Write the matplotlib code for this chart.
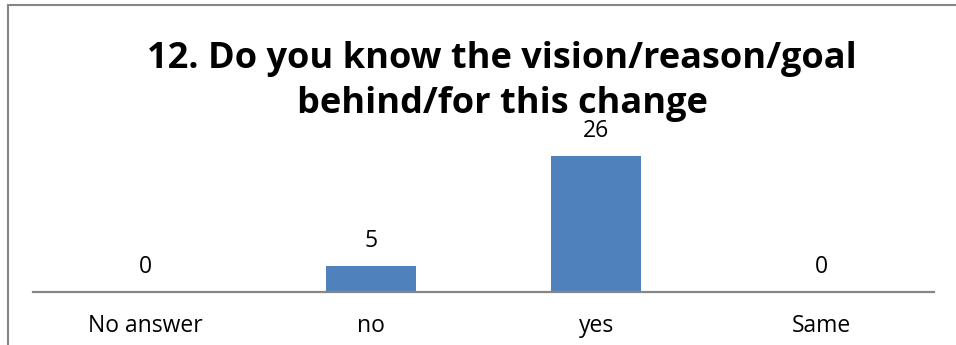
import matplotlib.pyplot as plt
from matplotlib.patches import Rectangle

# ── Dados ─────────────────────────────────────────────────────────────────────
categories  = ['No answer', 'no', 'yes', 'Same']
counts      = [0, 5, 26, 0]
title_lines = ['12. Do you know the vision/reason/goal', 'behind/for this change']

BAR_COLOR  = '#4F81BD'
AXIS_COLOR = '#868686'

plt.rcParams['font.family'] = ['Open Sans', 'DejaVu Sans']

W, H = 956, 345
fig = plt.figure(figsize=(W / 100, H / 100), dpi=100)

# área do gráfico em pixels: x 33..934, y 135..292 (a partir do topo)
ax = fig.add_axes([33 / W, 1 - 292 / H, (934 - 33) / W, (292 - 135) / H])

x = range(len(categories))
ax.bar(x, counts, width=0.4, color=BAR_COLOR)

ax.set_xlim(-0.5, len(categories) - 0.5)
ax.set_ylim(0, 30)

for xi, v in zip(x, counts):
    ax.annotate(str(v), xy=(xi, v), xytext=(0, 13.5), textcoords='offset points',
                ha='center', va='baseline', fontsize=16.5, color='black')

for s in ['top', 'right', 'left']:
    ax.spines[s].set_visible(False)
ax.spines['bottom'].set_color(AXIS_COLOR)
ax.spines['bottom'].set_linewidth(1.6)
ax.set_yticks([])
ax.set_xticks(list(x))
ax.set_xticklabels(categories, fontsize=16.5)
ax.tick_params(axis='x', length=0, pad=16)

# título em duas linhas, cada uma na sua linha de base
for line, base in zip(title_lines, [68, 113]):
    fig.text(502 / W, 1 - base / H, line, ha='center', va='baseline',
             fontsize=26, fontweight='bold')

# moldura externa (só os lados esquerdo e superior ficam visíveis)
fig.patches.append(Rectangle((8 / W, -0.2), 1.2, 1.2 - 5 / H,
                             transform=fig.transFigure, fill=False,
                             edgecolor=AXIS_COLOR, linewidth=1.5))

fig.savefig('out.png', dpi=100)
